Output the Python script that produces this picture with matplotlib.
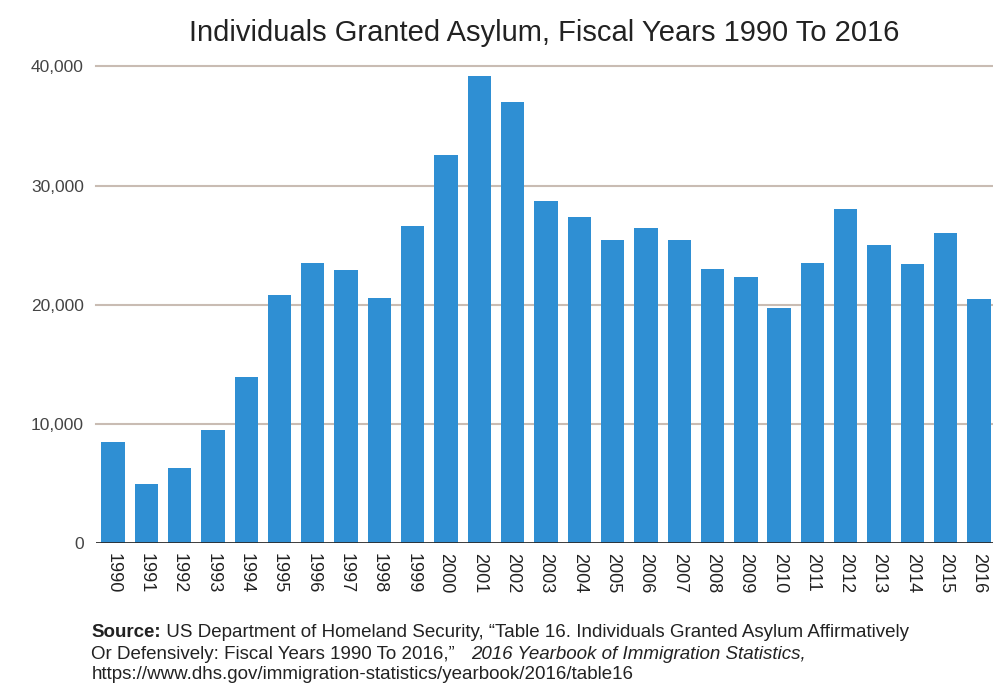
import matplotlib.pyplot as plt
import numpy as np

# data
years = ['1990', '1991', '1992', '1993', '1994', '1995', '1996', '1997', '1998',
         '1999', '2000', '2001', '2002', '2003', '2004', '2005', '2006', '2007',
         '2008', '2009', '2010', '2011', '2012', '2013', '2014', '2015', '2016']
granted = [8450, 5000, 6300, 9500, 13900, 20800, 23500, 22900, 20600,
           26600, 32600, 39200, 37000, 28700, 27400, 25400, 26400, 25400,
           23000, 22300, 19700, 23500, 28000, 25000, 23400, 26000, 20500]
yticks = [0, 10000, 20000, 30000, 40000]

plt.rcParams['font.family'] = ['Liberation Sans', 'DejaVu Sans']

fig = plt.figure(figsize=(9.93, 6.84), dpi=100)
ax = fig.add_axes([0.097, 0.206, 0.903, 0.697])

x = np.arange(len(years))
ax.bar(x, granted, width=0.7, color='#2f8fd3', zorder=3)

ax.set_xlim(-0.5, 26.42)
ax.set_ylim(0, 40000)
ax.set_yticks(yticks)
ax.set_yticklabels(['{:,}'.format(v) for v in yticks], fontsize=12.5, color='#444444')
ax.set_xticks(x)
ax.set_xticklabels(years, rotation=270, fontsize=13, color='#222222')
ax.tick_params(axis='both', length=0)
ax.tick_params(axis='y', pad=9)
ax.tick_params(axis='x', pad=7)

for v in yticks[1:]:
    ax.axhline(v, color='#c9bcb3', lw=1.5, zorder=1, clip_on=False)
ax.axhline(0, color='#2b2b2b', lw=2, zorder=4)
for s in ax.spines.values():
    s.set_visible(False)

fig.text(0.548, 0.952, 'Individuals Granted Asylum, Fiscal Years 1990 To 2016',
         ha='center', va='center', fontsize=21, color='#222222')

# source note
fs = 13.5
c = '#222222'
t1 = fig.text(0.092, 0.069, 'Source:', fontweight='bold', fontsize=fs, color=c,
              va='baseline')
ax.annotate(' US Department of Homeland Security, \u201cTable 16. Individuals Granted Asylum Affirmatively',
            xy=(1, 0), xycoords=t1, va='bottom', ha='left', fontsize=fs, color=c)
t2 = fig.text(0.092, 0.037, 'Or Defensively: Fiscal Years 1990 To 2016,\u201d   ',
              fontsize=fs, color=c, va='baseline')
ax.annotate('2016 Yearbook of Immigration Statistics,', xy=(1, 0), xycoords=t2,
            va='bottom', ha='left', fontsize=fs, color=c, style='italic')
fig.text(0.092, 0.007, 'https://www.dhs.gov/immigration-statistics/yearbook/2016/table16',
         fontsize=fs, color=c, va='baseline')

fig.savefig('out.png', dpi=100)
